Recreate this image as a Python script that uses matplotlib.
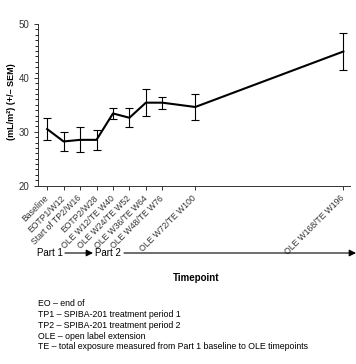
import matplotlib
matplotlib.use("Agg")
import matplotlib.pyplot as plt
from matplotlib.ticker import MultipleLocator

plt.rcParams['font.family'] = ['Liberation Sans', 'DejaVu Sans']

# timepoints and their slot on the axis
labels = ["Baseline", "EOTP1/W12", "Start of TP2/W16", "EOTP2/W28",
          "OLE W12/TE W40", "OLE W24/TE W52", "OLE W36/TE W64",
          "OLE W48/TE W76", "OLE W72/TE W100", "OLE W168/TE W196"]
positions = [0, 1, 2, 3, 4, 5, 6, 7, 9, 18]
means = [30.5, 28.2, 28.5, 28.5, 33.4, 32.6, 35.4, 35.4, 34.6, 44.9]
sem = [2.0, 1.7, 2.3, 1.8, 1.0, 1.75, 2.45, 1.1, 2.35, 3.35]

notes = ["EO \u2013 end of",
         "TP1 \u2013 SPIBA-201 treatment period 1",
         "TP2 \u2013 SPIBA-201 treatment period 2",
         "OLE \u2013 open label extension",
         "TE \u2013 total exposure measured from Part 1 baseline to OLE timepoints"]

fig = plt.figure(figsize=(3.56, 3.64), dpi=100)
ax = fig.add_axes([0.107, 0.490, 0.876, 0.444])

ax.errorbar(positions, means, yerr=sem, color='black', lw=1.5,
            elinewidth=0.8, capsize=3, capthick=0.8)

ax.set_ylim(20, 50)
ax.set_xlim(-0.55, 18.4)
ax.yaxis.set_major_locator(MultipleLocator(10))
ax.yaxis.set_minor_locator(MultipleLocator(1))
ax.set_xticks(positions)
ax.set_xticklabels(labels, rotation=45, ha='right', va='center',
                   rotation_mode='anchor')
ax.tick_params(axis='both', length=3, width=0.7, colors='#333333')
ax.tick_params(axis='x', labelsize=6.2, pad=5)
ax.tick_params(axis='y', labelsize=7)
ax.tick_params(axis='y', which='minor', length=2, width=0.6)
for s in ['top', 'right']:
    ax.spines[s].set_visible(False)
for s in ['left', 'bottom']:
    ax.spines[s].set_linewidth(0.7)
    ax.spines[s].set_color('#333333')

fig.text(0.033, 0.72, "(mL/m\u00b2) (+/\u2013 SEM)", rotation=90, ha='center',
         va='center', fontsize=6.5, fontweight='bold')

# Part 1 -> Part 2 arrows
y_arr = 1 - 253 / 364
fig.text(37 / 356, y_arr, "Part 1", fontsize=7, va='center', ha='left')
fig.text(95 / 356, y_arr, "Part 2", fontsize=7, va='center', ha='left')
fig.add_artist(matplotlib.patches.FancyArrowPatch(
    (65 / 356, y_arr), (93 / 356, y_arr), transform=fig.transFigure,
    arrowstyle='-|>,head_length=4,head_width=2', color='black', lw=0.8,
    shrinkA=0, shrinkB=0))
fig.add_artist(matplotlib.patches.FancyArrowPatch(
    (124 / 356, y_arr), (356 / 356, y_arr), transform=fig.transFigure,
    arrowstyle='-|>,head_length=4,head_width=2', color='black', lw=0.8,
    shrinkA=0, shrinkB=0))
fig.text(196 / 356, 1 - 278 / 364, "Timepoint", fontsize=7, fontweight='bold',
         ha='center', va='center')

for i, line in enumerate(notes):
    fig.text(38 / 356, 1 - (304 + i * 10.7) / 364, line, fontsize=6.3,
             ha='left', va='center')

fig.savefig("out.png", dpi=100)
